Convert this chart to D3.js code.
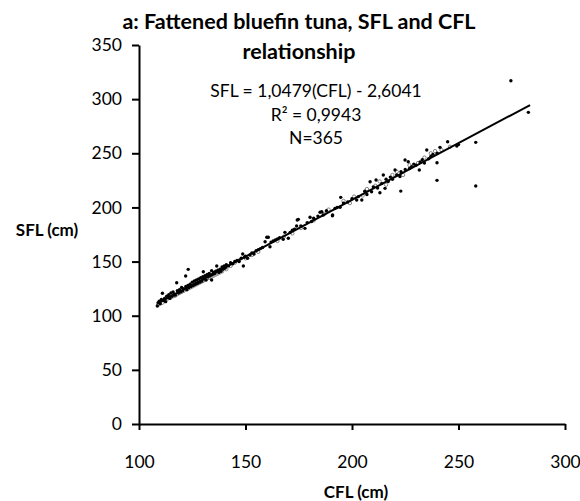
<!DOCTYPE html>
<html>
<head>
<meta charset="utf-8">
<script src="https://cdn.jsdelivr.net/npm/d3@7"></script>
<style>
  body { margin: 0; background: #fff; }
  text { font-family: Lato, "Open Sans", sans-serif; fill: #000; }
</style>
</head>
<body>
<div id="main"></div>
<script>
const ctx = {
    w: 580,
    h: 501,
    margin: { top: 45, right: 15, bottom: 77, left: 139 },
};

// tick values
const xTicks = [100, 150, 200, 250, 300];
const yTicks = [0, 50, 100, 150, 200, 250, 300, 350];

// regression (from the chart label)
const slope = 1.0479;
const intercept = -2.6041;
const lineRange = [108.5, 283.6];

const titleLines = ["a: Fattened bluefin tuna, SFL and CFL", "relationship"];
const eqLines = ["SFL = 1,0479(CFL) - 2,6041", "R² = 0,9943", "N=365"];

// black dots [CFL, SFL]
const solidPts = [
    [108.6,109],[109,112],[109.5,113.5],[110,111],[110.5,115],[111,120.7],[111.5,114],[112,116],[112.5,113],
    [113,118],[113.5,117],[114,119.5],[114.5,116],[115,121],[115.5,118],[116,122],[116.5,120],[117,119],
    [117.7,130.5],[118,123],[118.5,121],[119,124],[119.5,122],[120,126],[120.5,123],[121,125],[121.9,136.7],
    [122,127],[122.5,124],[123.1,142.8],[123,128],[123.5,126],[124,129],[124.5,127],[125,131],[125.5,128],
    [126,132],[126.5,129],[127,133],[127.5,130],[128,134],[128.5,131],[129,135],[129.5,132],[130.2,140.6],
    [130,136],[130.5,134],[131,137],[131.5,133],[132,138],[132.5,136],[133,139],[133.5,137],[134.1,141.6],
    [134.1,133],[134.5,138],[135,140],[135.5,139],[136.5,145.9],[136,141],[137,142],[137.5,140],[138,143],
    [138.5,141],[139,145],[139.5,143],[140,146],[140.5,144],[141,147],[142,146],[143,149],[144,148],[145,150],
    [146,151],[147,150],[148,153],[148.7,157],[149,145.9],[149.5,154],[150,155],[151,153],[152.1,156],[153,158],
    [154,157],[155,160],[156,161],[157,162],[158,163],[159.2,168.3],[160,172.4],[160.7,172.4],[161.5,163.7],
    [162,168],[163,169],[164,170],[165,171],[166,172],[167.7,170.5],[168.5,177],[170.1,171.5],[171,177],
    [172,179],[173,180],[174,182.8],[174.3,188.4],[174.8,189],[176,183],[177.9,180.7],[179,186],[180.3,190.9],
    [181,187],[182,190],[184,192],[185,195.5],[185.8,196],[186.5,193],[188,197],[190.8,192.3],[190.9,193],
    [192,199],[193,200],[194.4,200.1],[194.7,209.3],[196,204],[198,205],[200,208],[202.2,206.8],[203,210],
    [204.6,206.8],[206,215],[207,212],[208.5,223.7],[209.2,214.5],[210,219],[211.3,225.3],[212,218],
    [213.1,213.6],[214,222],[214.7,229.9],[215.5,217.6],[216,226],[217,224],[218,228],[219,226],[220.2,234.5],
    [221,230],[222.5,228.6],[222.9,215.1],[223,233],[224.9,243.8],[225,235],[226.4,242.2],[227,236],[228,237.6],
    [229,240],[230,239],[231.6,234.5],[232,242],[233,244],[234,241],[235.1,253],[236,245],[237,247],[238,249],
    [239.9,241.3],[239.9,225],[240,250],[241.3,255.5],[244.9,260.7],[249.2,256.7],[250,258],[258.1,260.1],
    [258.1,219.8],[274.6,317],[282.8,287.8]
];

// grey open circles [CFL, SFL]
const openPts = [
    [109,110],[110,112.5],[111,112],[112,114.5],[113,115],[114,116.5],[115,117],[116,118],[117,118.5],
    [118,120],[119,121],[120,122],[121,123],[122,124.5],[123,125],[124,126],[125,127],[126,128],[127,129],
    [128,130],[129,131],[130,132],[131,133.5],[132,134.5],[133,135],[134,136],[135,137],[136,138],[137,139],
    [138,140],[139,141],[141,143],[143,146],[145,149],[147,151],[150,153],[153,156],[156,159],[165,169],
    [168,173],[172,176],[176,181],[182,188],[187,194],[189,198],[196,206],[199,204],[201,210],[205,211],
    [207,217],[211,220],[213,224],[216,221],[219,230],[221,233],[224,230],[227,239],[231,241],[234,246],
    [237,250],[239,252],[242,253],[246,256]
];

function createViz() {
    const svg = d3.select("#main").append("svg")
        .attr("width", ctx.w)
        .attr("height", ctx.h);

    const xScale = d3.scaleLinear().domain([100, 300])
        .range([ctx.margin.left, ctx.w - ctx.margin.right]);
    const yScale = d3.scaleLinear().domain([0, 350])
        .range([ctx.h - ctx.margin.bottom, ctx.margin.top]);

    // axes
    const gx = svg.append("g")
        .attr("transform", `translate(0, ${yScale(0)})`)
        .call(d3.axisBottom(xScale).tickValues(xTicks).tickSize(6).tickSizeOuter(0).tickPadding(26));
    const gy = svg.append("g")
        .attr("transform", `translate(${xScale(100)}, 0)`)
        .call(d3.axisLeft(yScale).tickValues(yTicks).tickSize(7).tickSizeOuter(0).tickPadding(10));

    [gx, gy].forEach(g => {
        g.select(".domain").attr("stroke", "#000").attr("stroke-width", 2);
        g.selectAll(".tick line").attr("stroke", "#000").attr("stroke-width", 2);
        g.selectAll(".tick text")
            .style("font-family", "Lato, 'Open Sans', sans-serif")
            .style("font-size", "17.5px")
            .attr("fill", "#000");
    });

    // points
    svg.append("g").selectAll("circle")
        .data(openPts)
        .enter()
        .append("circle")
        .attr("cx", d => xScale(d[0]))
        .attr("cy", d => yScale(d[1]))
        .attr("r", 1.7)
        .attr("fill", "none")
        .attr("stroke", "#777")
        .attr("stroke-width", 0.9);

    svg.append("g").selectAll("circle")
        .data(solidPts)
        .enter()
        .append("circle")
        .attr("cx", d => xScale(d[0]))
        .attr("cy", d => yScale(d[1]))
        .attr("r", 1.7)
        .attr("fill", "#000");

    // regression line
    const line = d3.line()
        .x(d => xScale(d))
        .y(d => yScale(slope * d + intercept));
    svg.append("path")
        .datum(lineRange)
        .attr("d", line)
        .attr("stroke", "#000")
        .attr("stroke-width", 2)
        .attr("fill", "none");

    // title
    svg.append("g").selectAll("text")
        .data(titleLines)
        .enter()
        .append("text")
        .attr("x", 299)
        .attr("y", (d, i) => 29 + i * 30)
        .attr("text-anchor", "middle")
        .style("font-size", "21.5px")
        .style("font-weight", "bold")
        .text(d => d);

    // equation
    svg.append("g").selectAll("text")
        .data(eqLines)
        .enter()
        .append("text")
        .attr("x", 316)
        .attr("y", (d, i) => 97 + i * 23.5)
        .attr("text-anchor", "middle")
        .style("font-size", "17.5px")
        .text(d => d);

    // axis titles
    svg.append("text")
        .attr("x", 356)
        .attr("y", 498)
        .attr("text-anchor", "middle")
        .style("font-size", "17px")
        .style("font-weight", "bold")
        .text("CFL (cm)");

    svg.append("text")
        .attr("x", 47)
        .attr("y", 236)
        .attr("text-anchor", "middle")
        .style("font-size", "17px")
        .style("font-weight", "bold")
        .text("SFL (cm)");
}

createViz();
</script>
</body>
</html>
